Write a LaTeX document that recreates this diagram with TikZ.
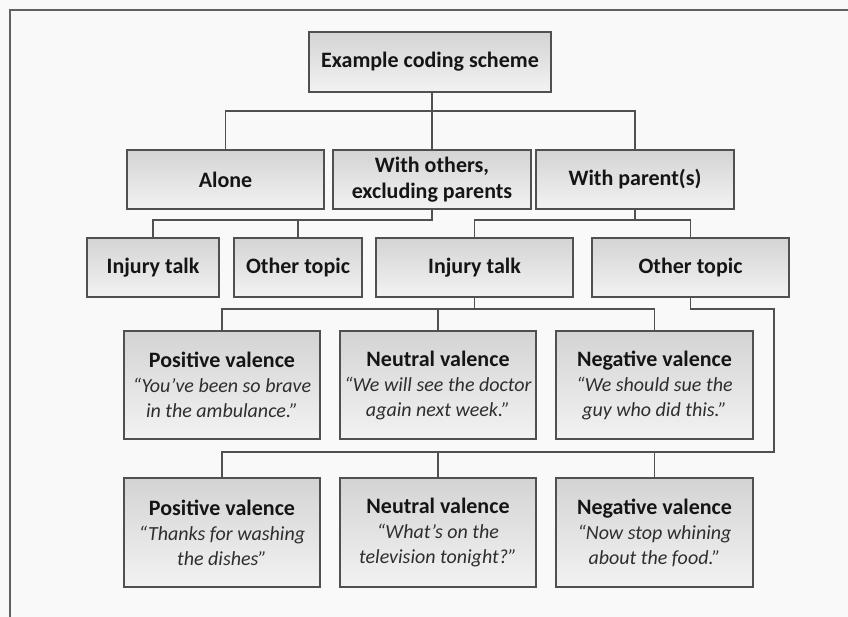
\documentclass[tikz,border=0pt]{standalone}
\usepackage{fontspec}
\setmainfont{Carlito}
\definecolor{bg}{HTML}{F9F9F9}
\definecolor{edge}{HTML}{505050}
\definecolor{ink}{HTML}{151515}
\definecolor{quote}{HTML}{2E2E2E}
\begin{document}
\begin{tikzpicture}[x=1pt,y=-1pt,
  box/.style={draw=edge, line width=1.6pt, top color=black!17, bottom color=black!5,
    inner sep=0pt, align=center, text=ink,
    font=\fontsize{22}{26}\selectfont\bfseries},
  vbox/.style={box, minimum width=196pt, minimum height=108pt,
    font=\fontsize{20}{25}\selectfont},
  conn/.style={draw=edge, line width=1.6pt},
  qt/.style={}]
\useasboundingbox[fill=bg] (0,0) rectangle (848,617);
\draw[draw=edge!90, line width=1.8pt] (10,617) -- (10,10) -- (848,10);

% level 1
\node[box, minimum width=242pt, minimum height=60pt] (top) at (430,62) {Example coding scheme};
% level 2
\node[box, minimum width=197pt, minimum height=59pt] (alone) at (225.5,179.5) {Alone};
\node[box, minimum width=198pt, minimum height=59pt] (others) at (432,179.5) {With others,\\excluding parents};
\node[box, minimum width=198pt, minimum height=59pt] (parent) at (635,179.5) {With parent(s)};
% level 3
\node[box, minimum width=132pt, minimum height=59pt] (inj1) at (153,267.5) {Injury talk};
\node[box, minimum width=128pt, minimum height=59pt] (oth1) at (298,267.5) {Other topic};
\node[box, minimum width=197pt, minimum height=59pt] (inj2) at (474.5,267.5) {Injury talk};
\node[box, minimum width=197pt, minimum height=59pt] (oth2) at (690.5,267.5) {Other topic};
% level 4
\node[vbox] (pos1) at (222,385) {\fontsize{22}{25}\selectfont\bfseries Positive valence\\\color{quote}\itshape “You’ve been so brave\\\color{quote}\itshape in the ambulance.”};
\node[vbox] (neu1) at (438,385) {\fontsize{22}{25}\selectfont\bfseries Neutral valence\\\color{quote}\itshape “We will see the doctor\\\color{quote}\itshape again next week.”};
\node[vbox, minimum width=197pt] (neg1) at (654.5,385) {\fontsize{22}{25}\selectfont\bfseries Negative valence\\\color{quote}\itshape “We should sue the\\\color{quote}\itshape guy who did this.”};
% level 5
\node[vbox, minimum height=109pt] (pos2) at (222,532.5) {\fontsize{22}{26}\selectfont\bfseries Positive valence\\\color{quote}\itshape “Thanks for washing\\\color{quote}\itshape the dishes”};
\node[vbox, minimum height=109pt] (neu2) at (438,532.5) {\fontsize{22}{26}\selectfont\bfseries Neutral valence\\\color{quote}\itshape “What’s on the\\\color{quote}\itshape television tonight?”};
\node[vbox, minimum height=109pt, minimum width=197pt] (neg2) at (654.5,532.5) {\fontsize{22}{26}\selectfont\bfseries Negative valence\\\color{quote}\itshape “Now stop whining\\\color{quote}\itshape about the food.”};

% bus lines
\coordinate (b1) at (0,111);
\coordinate (b2) at (0,220);
\coordinate (b3) at (0,309);
\coordinate (b4) at (0,452);
\coordinate (rr) at (774,0);

\draw[conn] (alone.north) |- (parent.north |- b1) -- (parent.north);
\draw[conn] (others.north) -- (others.north |- top.south);

\draw[conn] (inj1.north) |- (others.south |- b2) -- (others.south);
\draw[conn] (oth1.north) -- (oth1.north |- b2);

\draw[conn] (inj2.north) |- (oth2.north |- b2) -- (oth2.north);
\draw[conn] (parent.south) -- (parent.south |- b2);

\draw[conn] (pos1.north) |- (neg1.north |- b3) -- (neg1.north);
\draw[conn] (inj2.south) -- (inj2.south |- b3);
\draw[conn] (neu1.north) -- (neu1.north |- b3);

\draw[conn] (oth2.south) -- (oth2.south |- b3) -| (rr |- b4) -| (pos2.north);
\draw[conn] (neu2.north) -- (neu2.north |- b4);
\draw[conn] (neg2.north) -- (neg2.north |- b4);
\end{tikzpicture}
\end{document}
